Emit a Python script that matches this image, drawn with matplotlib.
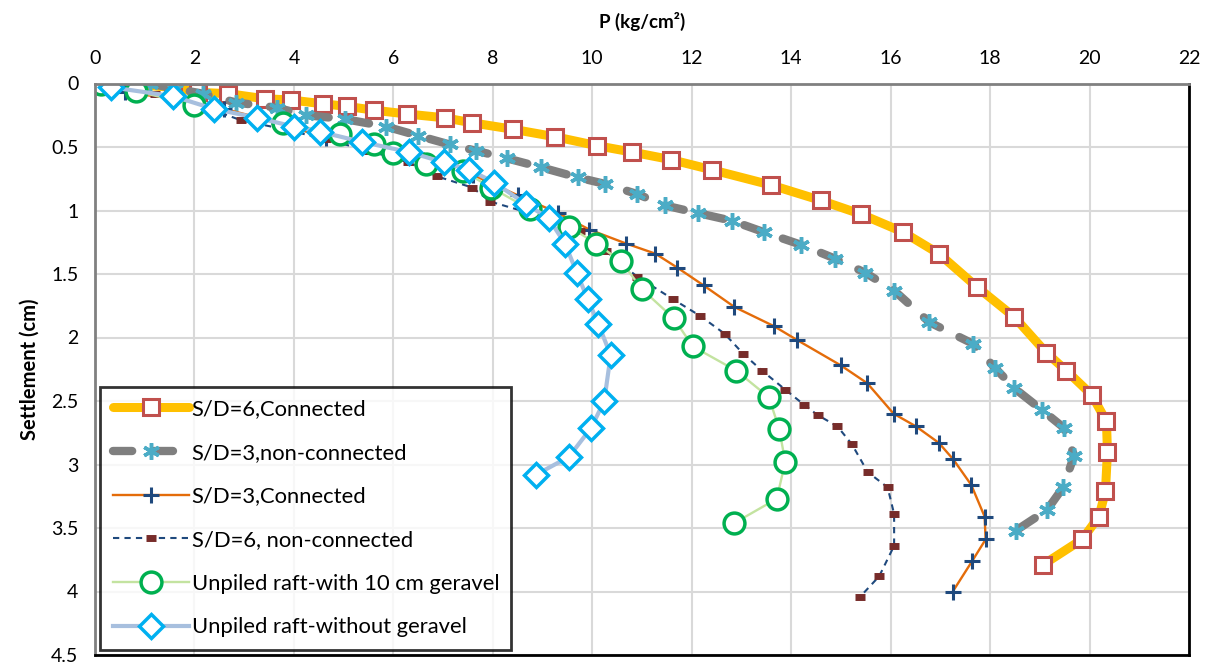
import matplotlib
matplotlib.use("Agg")
import matplotlib.pyplot as plt
from matplotlib.ticker import MultipleLocator, FuncFormatter

plt.rcParams['font.family'] = ['Lato', 'DejaVu Sans']

# Load-settlement curves
p_sd6_con = [0.84, 1.56, 2.08, 2.68, 3.41, 3.94, 4.59, 5.06, 5.61, 6.27, 7.03, 7.59, 8.40,
             9.26, 10.10, 10.80, 11.59, 12.41, 13.60, 14.59, 15.41, 16.25, 16.97, 17.73,
             18.49, 19.13, 19.53, 20.04, 20.34, 20.36, 20.32, 20.19, 19.85, 19.06]
s_sd6_con = [0.01, 0.03, 0.07, 0.08, 0.12, 0.13, 0.16, 0.18, 0.21, 0.24, 0.27, 0.31, 0.36,
             0.42, 0.49, 0.54, 0.60, 0.68, 0.80, 0.92, 1.03, 1.17, 1.34, 1.60,
             1.84, 2.12, 2.26, 2.45, 2.66, 2.90, 3.21, 3.41, 3.59, 3.79]

p_sd3_non = [1.10, 1.60, 2.17, 2.84, 3.65, 4.25, 5.02, 5.86, 6.49, 7.13, 7.67, 8.29, 8.97,
             9.71, 10.25, 10.90, 11.46, 12.12, 12.80, 13.45, 14.20, 14.89, 15.49, 16.07,
             16.78, 17.66, 18.10, 18.49, 19.04, 19.48, 19.69, 19.47, 19.14, 18.52]
s_sd3_non = [0.00, 0.04, 0.08, 0.15, 0.19, 0.25, 0.28, 0.34, 0.41, 0.48, 0.53, 0.59, 0.66,
             0.74, 0.79, 0.87, 0.96, 1.02, 1.08, 1.17, 1.27, 1.38, 1.49, 1.63,
             1.88, 2.05, 2.24, 2.40, 2.57, 2.71, 2.93, 3.18, 3.36, 3.52]

p_sd3_con = [0.60, 1.60, 2.60, 3.70, 4.65, 5.60, 6.60, 7.60, 8.50, 9.31, 9.94, 10.68, 11.27,
             11.71, 12.24, 12.86, 13.65, 14.12, 15.00, 15.53, 16.06, 16.51, 16.97, 17.26,
             17.62, 17.89, 17.91, 17.64, 17.25]
s_sd3_con = [0.07, 0.12, 0.20, 0.31, 0.43, 0.50, 0.60, 0.72, 0.88, 1.02, 1.15, 1.26, 1.34,
             1.45, 1.59, 1.76, 1.91, 2.02, 2.22, 2.36, 2.60, 2.70, 2.83, 2.96,
             3.16, 3.41, 3.59, 3.76, 4.00]

p_sd6_non = [0.30, 1.20, 2.10, 2.94, 3.80, 4.65, 5.50, 6.30, 6.87, 7.59, 7.95, 9.00, 9.76,
             10.27, 10.90, 11.63, 12.17, 12.66, 13.04, 13.41, 13.88, 14.26, 14.53, 14.93,
             15.22, 15.54, 15.94, 16.07, 16.07, 15.77, 15.39]
s_sd6_non = [0.02, 0.08, 0.17, 0.29, 0.36, 0.44, 0.53, 0.62, 0.73, 0.82, 0.93, 1.05, 1.16,
             1.32, 1.52, 1.70, 1.83, 1.97, 2.13, 2.26, 2.41, 2.53, 2.61, 2.70,
             2.84, 3.06, 3.18, 3.39, 3.64, 3.88, 4.04]

p_gravel = [0.13, 0.82, 2.00, 3.79, 4.92, 5.62, 5.99, 6.66, 7.40, 7.97, 8.74, 9.54, 10.08,
            10.58, 11.00, 11.64, 12.02, 12.89, 13.55, 13.76, 13.88, 13.71, 12.86]
s_gravel = [0.00, 0.06, 0.17, 0.31, 0.40, 0.48, 0.55, 0.63, 0.69, 0.82, 0.99, 1.13, 1.26,
            1.40, 1.62, 1.85, 2.07, 2.26, 2.47, 2.72, 2.98, 3.27, 3.46]

p_nogravel = [0.33, 1.57, 2.39, 3.26, 4.01, 4.53, 5.37, 6.31, 7.01, 7.53, 8.03, 8.67, 9.12,
              9.45, 9.69, 9.91, 10.12, 10.37, 10.24, 9.98, 9.53, 8.87]
s_nogravel = [0.03, 0.10, 0.20, 0.27, 0.34, 0.38, 0.46, 0.54, 0.62, 0.68, 0.78, 0.95, 1.06,
              1.26, 1.49, 1.70, 1.89, 2.14, 2.50, 2.71, 2.94, 3.08]

fig = plt.figure(figsize=(12.08, 6.66), dpi=100)
ax = fig.add_axes([95 / 1208, 1 - 655 / 666, (1189 - 95) / 1208, (655 - 83.5) / 666])

ax.plot(p_sd6_con, s_sd6_con, color='#FFC000', lw=6.5, solid_capstyle='round',
        marker='s', ms=12, mfc='white', mec='#C0504D', mew=2.2,
        label='S/D=6,Connected')
ax.plot(p_sd3_non, s_sd3_non, color='#7F7F7F', lw=6, dashes=(2.3, 2.6),
        dash_capstyle='round', marker=(6, 2, 0), ms=12, mec='#4BACC6', mew=2.5,
        label='S/D=3,non-connected')
ax.plot(p_sd3_con, s_sd3_con, color='#E46C0A', lw=1.7,
        marker='+', ms=11, mec='#1F497D', mew=2.2,
        label='S/D=3,Connected')
ax.plot(p_sd6_non, s_sd6_non, color='#1F497D', lw=1.5, dashes=(3, 2.5),
        marker='_', ms=7, mec='#772C2A', mew=5,
        label='S/D=6, non-connected')
ax.plot(p_gravel, s_gravel, color='#C3E3A0', lw=1.7,
        marker='o', ms=15, mfc='white', mec='#00B050', mew=2.5,
        label='Unpiled raft-with 10 cm geravel')
ax.plot(p_nogravel, s_nogravel, color='#A7BFDE', lw=3,
        marker='D', ms=12, mfc='white', mec='#00B0F0', mew=2.5,
        label='Unpiled raft-without geravel')

ax.set_xlim(0, 22)
ax.set_ylim(4.5, 0)
ax.xaxis.set_major_locator(MultipleLocator(2))
ax.yaxis.set_major_locator(MultipleLocator(0.5))
ax.yaxis.set_major_formatter(FuncFormatter(lambda v, pos: f'{v:g}'))
ax.xaxis.tick_top()
ax.xaxis.set_label_position('top')
ax.tick_params(length=0, labelsize=14, pad=12)
ax.grid(True, color='#D9D9D9', lw=1.5)
ax.set_axisbelow(True)

for side in ['top', 'left']:
    ax.spines[side].set_color('#808080')
    ax.spines[side].set_linewidth(2)
for side in ['right', 'bottom']:
    ax.spines[side].set_color('black')
    ax.spines[side].set_linewidth(2)

ax.set_xlabel('P (kg/cm²)', fontsize=13.5, fontweight='bold', labelpad=16)
ax.set_ylabel('Settlement (cm)', fontsize=14.5, fontweight='bold', labelpad=8)

leg = ax.legend(loc='lower left', bbox_to_anchor=(0.0, 0.0), fontsize=15.8,
                frameon=True, fancybox=False, edgecolor='black', handlelength=3.5,
                labelspacing=1.08, borderpad=0.55, borderaxespad=0.25, handletextpad=0.1)
leg.get_frame().set_linewidth(2)

fig.savefig('out.png', dpi=100)
